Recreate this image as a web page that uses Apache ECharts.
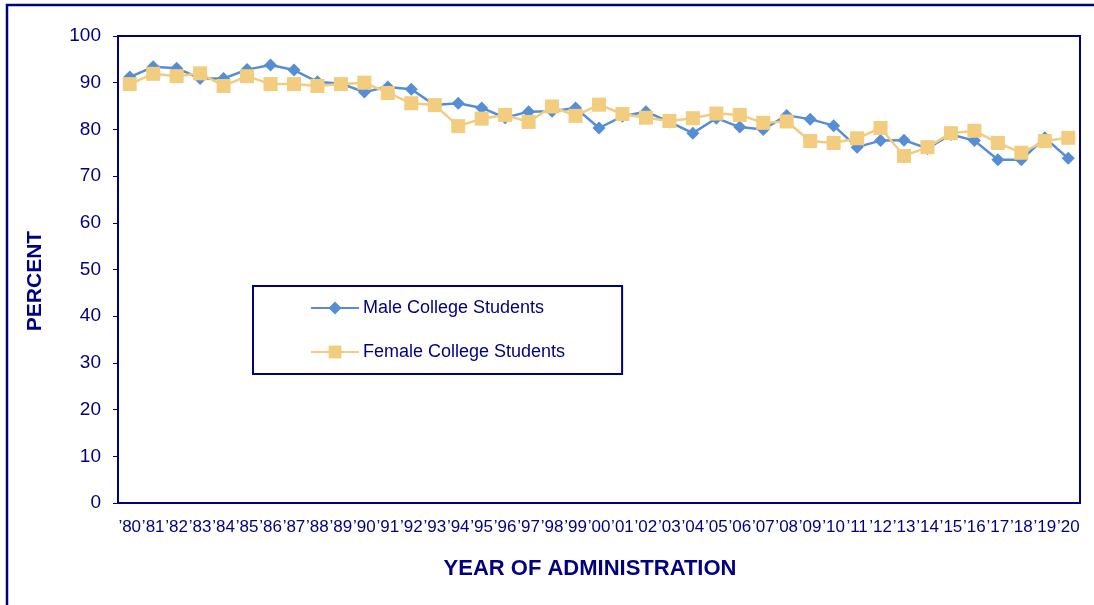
<!DOCTYPE html>
<html><head><meta charset="utf-8">
<script src="https://cdn.jsdelivr.net/npm/echarts@6/dist/echarts.min.js"></script>
<style>html,body{margin:0;padding:0;background:#fff}#c{width:1094px;height:605px}</style>
</head><body><div id="c"></div>
<script>
const categories = ["’80","’81","’82","’83","’84","’85","’86","’87","’88","’89","’90","’91","’92","’93","’94","’95","’96","’97","’98","’99","’00","’01","’02","’03","’04","’05","’06","’07","’08","’09","’10","’11","’12","’13","’14","’15","’16","’17","’18","’19","’20"];
const maleValues = [91.2,93.4,93.1,90.9,90.9,92.8,93.8,92.7,90.2,89.8,88.0,89.1,88.6,85.2,85.6,84.6,82.5,83.8,83.9,84.6,80.3,82.8,83.8,81.6,79.2,82.4,80.5,80.0,83.0,82.2,80.8,76.2,77.6,77.7,75.9,78.9,77.6,73.5,73.5,78.2,73.8];
const femaleValues = [89.7,91.9,91.4,92.0,89.3,91.4,89.7,89.7,89.3,89.7,90.0,87.8,85.6,85.2,80.7,82.3,83.1,81.6,84.9,82.9,85.3,83.3,82.5,81.8,82.4,83.4,83.1,81.4,81.7,77.5,77.1,78.1,80.3,74.3,76.2,79.2,79.7,77.1,75.0,77.5,78.2];
const yTicks = {min:0, max:100, interval:10};
const seriesNames = ["Male College Students","Female College Students"];
const axisTitles = {x:'YEAR OF ADMINISTRATION', y:'PERCENT'};

const navy = '#000080';
const font = '"Liberation Sans", Arial, sans-serif';
const chart = echarts.init(document.getElementById('c'), null, {renderer:'canvas'});
chart.setOption({
  animation:false,
  backgroundColor:'#fff',
  textStyle:{fontFamily:font},
  graphic:[
    {type:'rect', shape:{x:7,y:5,width:1110,height:640}, style:{fill:'none',stroke:navy,lineWidth:2.5}, z:-1},
    {type:'text', x:35, y:281, rotation:Math.PI/2, style:{text:axisTitles.y, fill:navy, font:'bold 21px '+font, align:'center', verticalAlign:'middle'}},
    {type:'text', x:590, y:569, style:{text:axisTitles.x, fill:navy, font:'bold 22px '+font, align:'center', verticalAlign:'middle'}}
  ],
  grid:{left:118, top:36, right:14, bottom:102, show:true, borderColor:navy, borderWidth:2, backgroundColor:'transparent'},
  legend:{
    data:seriesNames, orient:'vertical', left:253, top:286,
    padding:[13,57,13,57], itemGap:26, itemWidth:48, itemHeight:16,
    borderColor:navy, borderWidth:2, backgroundColor:'#fff',
    textStyle:{fontFamily:font, fontSize:18, color:navy, padding:[0,0,0,-1]}
  },
  xAxis:{
    type:'category', data:categories, boundaryGap:true,
    axisLine:{lineStyle:{color:navy,width:2}},
    axisTick:{inside:true, length:5, lineStyle:{color:navy}},
    axisLabel:{interval:0, fontSize:17, color:navy, margin:16, fontFamily:font}
  },
  yAxis:{
    type:'value', min:yTicks.min, max:yTicks.max, interval:yTicks.interval,
    axisLine:{show:true, lineStyle:{color:navy,width:2}},
    axisTick:{show:true, length:5, lineStyle:{color:navy}},
    axisLabel:{fontSize:19, color:navy, margin:17, fontFamily:font},
    splitLine:{show:false}
  },
  series:[
    {name:seriesNames[0], type:'line', data:maleValues, symbol:'diamond', symbolSize:13,
     itemStyle:{color:'#558ED5'}, lineStyle:{color:'#558ED5', width:2.5}, z:2},
    {name:seriesNames[1], type:'line', data:femaleValues, symbol:'rect', symbolSize:14,
     itemStyle:{color:'#F2CC7F'}, lineStyle:{color:'#F2CC7F', width:2.5}, z:3}
  ]
});
</script></body></html>
